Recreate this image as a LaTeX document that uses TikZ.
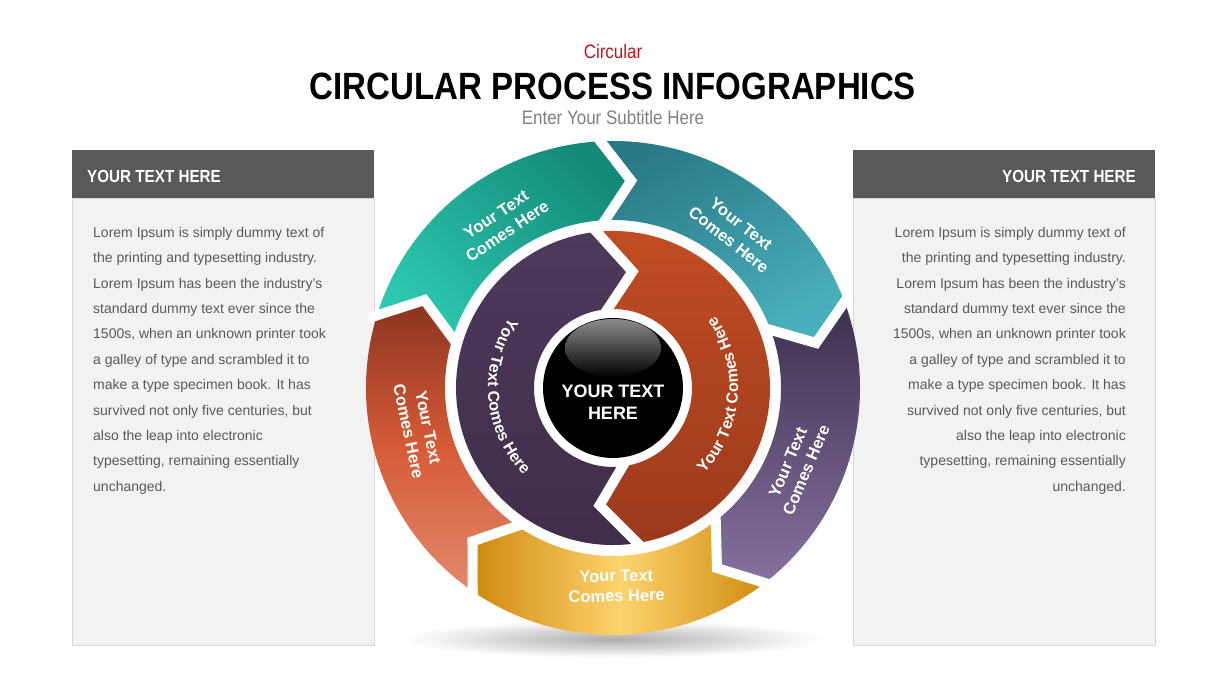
\documentclass[tikz,border=0pt]{standalone}
\usepackage{fontspec}
\setmainfont{Liberation Sans}
\newfontfamily\titlefont[FakeStretch=0.87]{Liberation Sans}
\usepackage{xcolor}
\usetikzlibrary{
  decorations.text
}
\definecolor{TitleRed}{HTML}{C0151C}
\definecolor{SubGray}{HTML}{808080}
\definecolor{HeadGray}{HTML}{595959}
\definecolor{PanelGray}{HTML}{F2F2F2}
\definecolor{PanelLine}{HTML}{D6D6D6}
\definecolor{BodyGray}{HTML}{595959}
\definecolor{TealDark}{HTML}{148A7A}
\definecolor{TealLight}{HTML}{2DC8AF}
\definecolor{BlueDark}{HTML}{2A7986}
\definecolor{BlueLight}{HTML}{4AAFBC}
\definecolor{PurpDark}{HTML}{3B2E4C}
\definecolor{PurpLight}{HTML}{86719F}
\definecolor{GoldSide}{HTML}{CF890E}
\definecolor{GoldMid}{HTML}{FDD36E}
\definecolor{RustDark}{HTML}{8A3320}
\definecolor{RustMid}{HTML}{D65B37}
\definecolor{RustLight}{HTML}{E38A6F}
\definecolor{InPurpTop}{HTML}{4D395B}
\definecolor{InPurpBot}{HTML}{3F2D49}
\definecolor{InRustTop}{HTML}{C24D23}
\definecolor{InRustBot}{HTML}{9B3A1C}

\begin{document}
\begin{tikzpicture}[x=1pt, y=1pt,
  headtext/.style  = {text=white, font=\titlefont\bfseries\fontsize{17.5}{20}\selectfont, inner sep=0pt},
  bodytext/.style  = {text=BodyGray, font=\fontsize{14}{25.4}\selectfont, inner sep=0pt},
  wheeltext/.style = {text=white, font=\bfseries\fontsize{16.5}{20}\selectfont, align=center, inner sep=0pt},
  gapline/.style   = {draw=white, line width=10pt},
  ringtext/.style  = {decorate, decoration={text along path, text align=center, text color=white,
                      text={|\bfseries\fontsize{16}{16}\selectfont|Your Text Comes Here}}}
]
  \useasboundingbox (0,0) rectangle (1227,690);

  % Title block
  \node[anchor=base, text=TitleRed, font=\titlefont\fontsize{19.5}{22}\selectfont] (kicker)   at (613,631) {Circular};
  \node[anchor=base, font=\titlefont\bfseries\fontsize{38}{40}\selectfont]          (title)    at (613,590) {CIRCULAR PROCESS INFOGRAPHICS};
  \node[anchor=base, text=SubGray, font=\titlefont\fontsize{19.5}{22}\selectfont]  (subtitle) at (613,565) {Enter Your Subtitle Here};

  % Left panel
  \fill [HeadGray] (72,540) rectangle (374,492);
  \draw [PanelLine, fill=PanelGray] (72,492) rectangle (374,45);
  \node[headtext, anchor=west] (lefthead) at (87,514) {YOUR TEXT HERE};
  \node[bodytext, anchor=north west, align=left] (leftbody) at (93,463)
    {Lorem Ipsum is simply dummy text of\\the printing and typesetting industry.\\Lorem Ipsum has been the industry's\\standard dummy text ever since the\\1500s, when an unknown printer took\\a galley of type and scrambled it to\\make a type specimen book. It has\\survived not only five centuries, but\\also the leap into electronic\\typesetting, remaining essentially\\unchanged.};

  % Right panel
  \fill [HeadGray] (853,540) rectangle (1155,492);
  \draw [PanelLine, fill=PanelGray] (853,492) rectangle (1155,45);
  \node[headtext, anchor=east] (righthead) at (1136,514) {YOUR TEXT HERE};
  \node[bodytext, anchor=north east, align=right] (rightbody) at (1126,463)
    {Lorem Ipsum is simply dummy text of\\the printing and typesetting industry.\\Lorem Ipsum has been the industry's\\standard dummy text ever since the\\1500s, when an unknown printer took\\a galley of type and scrambled it to\\make a type specimen book. It has\\survived not only five centuries, but\\also the leap into electronic\\typesetting, remaining essentially\\unchanged.};

  % Shadow under the wheel
  \shade [inner color=black!32, outer color=white] (613,51) ellipse [x radius=210, y radius=19];

  \begin{scope}[shift={(613,302)}]
    % Outer ring
    \shade [top color=TealDark, bottom color=TealLight, shading angle=-45]
      (164:247) arc [start angle=164, end angle=94, radius=247] -- (85:208) -- (94:168) arc [start angle=94, end angle=164, radius=168] -- (155:208) -- cycle;
    \shade [top color=BlueDark, bottom color=BlueLight, shading angle=30]
      (94:247) arc [start angle=94, end angle=21.5, radius=247] -- (12.5:208) -- (21.5:168) arc [start angle=21.5, end angle=94, radius=168] -- (85:208) -- cycle;
    \shade [top color=PurpDark, bottom color=PurpLight]
      (21.5:247) arc [start angle=21.5, end angle=-51, radius=247] -- (-60:208) -- (-51:168) arc [start angle=-51, end angle=21.5, radius=168] -- (12.5:208) -- cycle;
    \shade [left color=GoldSide, right color=GoldSide, middle color=GoldMid]
      (-51:247) arc [start angle=-51, end angle=-123.5, radius=247] -- (-132.5:208) -- (-123.5:168) arc [start angle=-123.5, end angle=-51, radius=168] -- (-60:208) -- cycle;
    \shade [top color=RustDark, bottom color=RustLight, middle color=RustMid]
      (236.5:247) arc [start angle=236.5, end angle=164, radius=247] -- (155:208) -- (164:168) arc [start angle=164, end angle=236.5, radius=168] -- (227.5:208) -- cycle;

    \draw [gapline] (94:254)    -- (85:208)    -- (94:163);
    \draw [gapline] (21.5:254)  -- (12.5:208)  -- (21.5:163);
    \draw [gapline] (-51:254)   -- (-60:208)   -- (-51:163);
    \draw [gapline] (-123.5:254) -- (-132.5:208) -- (-123.5:163);
    \draw [gapline] (164:254)   -- (155:208)   -- (164:163);

    % Inner ring
    \shade [top color=InRustTop, bottom color=InRustBot]
      (97:157) arc [start angle=97, end angle=-80, radius=157] -- (-96.5:118) -- (-80:79) arc [start angle=-80, end angle=97, radius=79] -- (80.5:118) -- cycle;
    \shade [top color=InPurpTop, bottom color=InPurpBot]
      (280:157) arc [start angle=280, end angle=97, radius=157] -- (80.5:118) -- (97:79) arc [start angle=97, end angle=280, radius=79] -- (263.5:118) -- cycle;

    \draw [gapline] (97:161)  -- (80.5:118)  -- (97:74);
    \draw [gapline] (-80:161) -- (-96.5:118) -- (-80:74);

    % Centre ball
    \fill [black] (0,0) circle [radius=70];
    \shade [top color=black!45, bottom color=black] (0,40) ellipse [x radius=48, y radius=29];
    \node[text=white, font=\bfseries\fontsize{18}{22}\selectfont, align=center] (hub) at (0,-14) {YOUR TEXT\\HERE};

    % Segment labels
    \node[wheeltext, rotate=34]  (teallabel)   at (124:199) {Your Text\\Comes Here};
    \node[wheeltext, rotate=-38] (bluelabel)   at (52:198)  {Your Text\\Comes Here};
    \node[wheeltext, rotate=67]  (purplelabel) at (-23:200) {Your Text\\Comes Here};
    \node[wheeltext, rotate=1]   (goldlabel)   at (-89:198) {Your Text\\Comes Here};
    \node[wheeltext, rotate=-78] (rustlabel)   at (192:199) {Your Text\\Comes Here};

    \path [ringtext] (120:125) arc [start angle=120, end angle=250, radius=125];
    \path [ringtext] (-70:125) arc [start angle=-70, end angle=62, radius=125];
  \end{scope}
\end{tikzpicture}
\end{document}
